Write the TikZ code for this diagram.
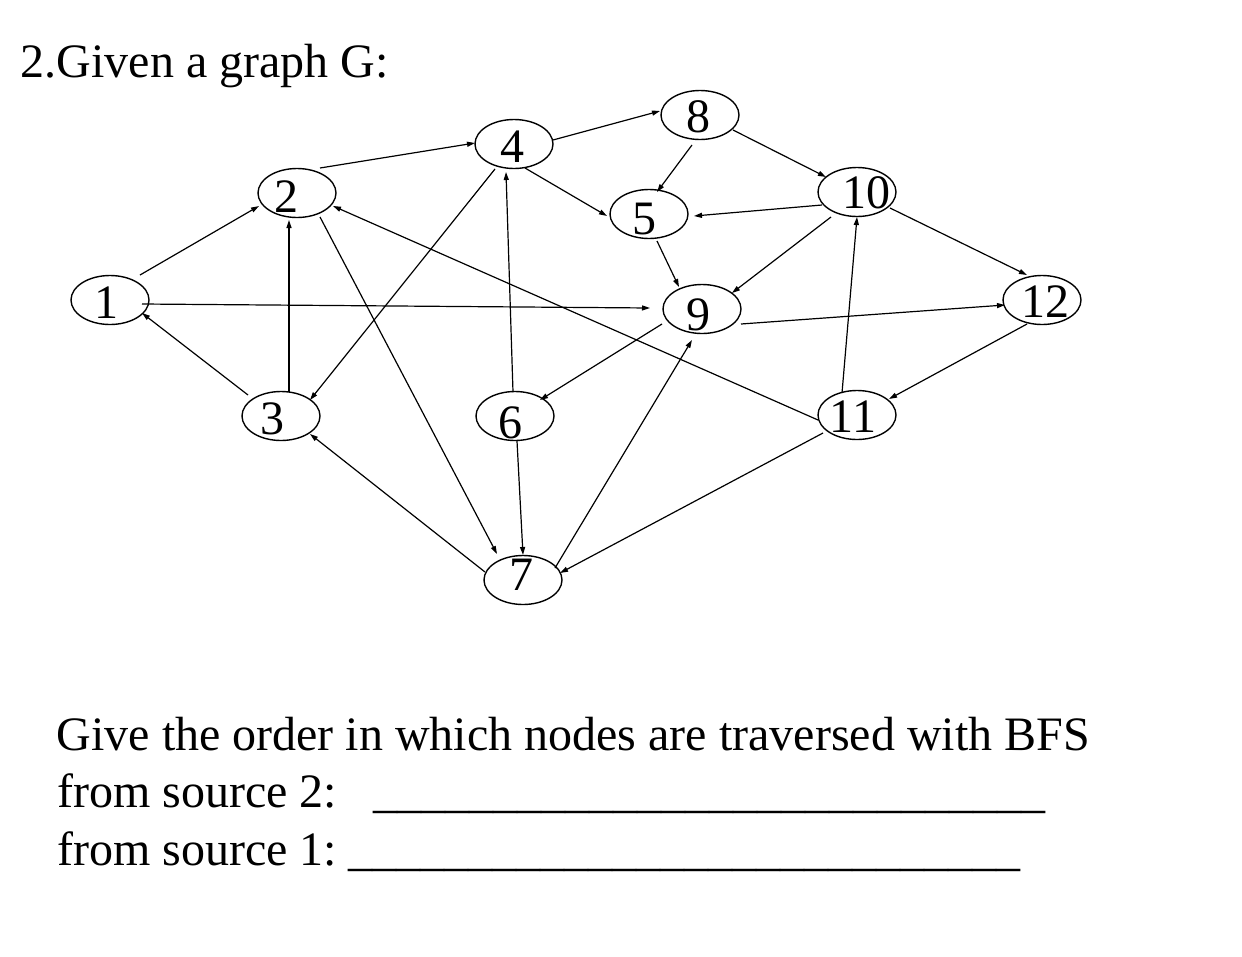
\documentclass[tikz,border=0pt]{standalone}
\usepackage{fontspec}
\setmainfont{Liberation Serif}
\usetikzlibrary{shapes.geometric,arrows.meta,calc}
\tikzset{
  vert/.style={draw, ellipse, minimum width=78pt, minimum height=49pt, inner sep=0pt, line width=1.4pt},
  lbl/.style={anchor=base, inner sep=0pt, font=\fontsize{48}{57}\selectfont},
  txt/.style={anchor=base west, inner sep=0pt, font=\fontsize{48}{57}\selectfont},
  conn/.style={line width=1.2pt, -{Triangle[length=8pt,width=5pt]}}
}
\begin{document}
\begin{tikzpicture}[x=1pt,y=-1pt]
\useasboundingbox (0,0) rectangle (1242,956);
% ellipses
\node[vert] (n1) at (110,300) {};
\node[vert] (n2) at (297,193) {};
\node[vert] (n3) at (281,416) {};
\node[vert] (n4) at (514,144) {};
\node[vert] (n8) at (700,115) {};
\node[vert] (n5) at (649,214) {};
\node[vert] (n10) at (857,192) {};
\node[vert] (n9) at (702,309) {};
\node[vert] (n12) at (1042,300) {};
\node[vert] (n11) at (857,415) {};
\node[vert] (n6) at (515,416) {};
\node[vert] (n7) at (523,580) {};
% labels
\node[lbl] (l1) at (106,318) {1};
\node[lbl] (l2) at (286,212) {2};
\node[lbl] (l3) at (272,434) {3};
\node[lbl] (l4) at (512,162) {4};
\node[lbl] (l8) at (698,132) {8};
\node[lbl] (l5) at (644,234) {5};
\node[lbl] (l10) at (866,208) {10};
\node[lbl] (l9) at (698,330) {9};
\node[lbl] (l12) at (1045,317) {12};
\node[lbl] (l11) at (853,432) {11};
\node[lbl] (l6) at (510,438) {6};
\node[lbl] (l7) at (521,590) {7};
% edges
\draw[conn] ($(n1)+(30,-25)$) -- ($(n2)+(-38,13)$);
\draw[conn] ($(n1)+(32,4)$) -- ($(n9)+(-52,-1)$);
\draw[conn] ($(n3)+(-33,-21)$) -- ($(n1)+(32,13)$);
\draw[conn] ($(n3)+(8,-24)$) -- ($(n2)+(-8,27)$);
\draw[conn] ($(n2)+(23,-25)$) -- ($(n4)+(-39,-1)$);
\draw[conn] ($(n2)+(23,24)$) -- ($(n7)+(-26,-26)$);
\draw[conn] ($(n4)+(-19,25)$) -- ($(n3)+(29,-16)$);
\draw[conn] ($(n11)+(-39,5)$) -- ($(n2)+(36,13)$);
\draw[conn] ($(n6)+(-2,-24)$) -- ($(n4)+(-8,28)$);
\draw[conn] ($(n4)+(39,-4)$) -- ($(n8)+(-40,-4)$);
\draw[conn] ($(n4)+(11,24)$) -- ($(n5)+(-42,2)$);
\draw[conn] ($(n8)+(-8,30)$) -- ($(n5)+(8,-22)$);
\draw[conn] ($(n8)+(33,15)$) -- ($(n10)+(-31,-15)$);
\draw[conn] ($(n10)+(-35,13)$) -- ($(n5)+(45,2)$);
\draw[conn] ($(n5)+(8,27)$) -- ($(n9)+(-23,-22)$);
\draw[conn] ($(n10)+(-26,25)$) -- ($(n9)+(30,-16)$);
\draw[conn] ($(n9)+(39,15)$) -- ($(n12)+(-37,5)$);
\draw[conn] ($(n10)+(33,16)$) -- ($(n12)+(-15,-25)$);
\draw[conn] ($(n12)+(-15,24)$) -- ($(n11)+(32,-16)$);
\draw[conn] ($(n11)+(-15,-22)$) -- ($(n10)+(0,25)$);
\draw[conn] ($(n9)+(-40,15)$) -- ($(n6)+(25,-16)$);
\draw[conn] ($(n7)+(32,-12)$) -- ($(n9)+(-10,31)$);
\draw[conn] ($(n11)+(-34,18)$) -- ($(n7)+(37,-7)$);
\draw[conn] ($(n7)+(-38,-8)$) -- ($(n3)+(29,18)$);
\draw[conn] ($(n6)+(2,25)$) -- ($(n7)+(0,-25)$);
% texts
\node[txt] (title) at (20.5,77) {2.Given a graph G:};
\node[txt] (q1) at (56.5,750) {Give the order in which nodes are traversed with BFS};
\node[txt] (q2) at (57,807) {from source 2:};
\node[txt] (q3) at (57,865) {from source 1:};
\node[txt] (u2) at (373,807) {\_\_\_\_\_\_\_\_\_\_\_\_\_\_\_\_\_\_\_\_\_\_\_\_\_\_\_\_};
\node[txt] (u3) at (348,865) {\_\_\_\_\_\_\_\_\_\_\_\_\_\_\_\_\_\_\_\_\_\_\_\_\_\_\_\_};
\end{tikzpicture}
\end{document}
